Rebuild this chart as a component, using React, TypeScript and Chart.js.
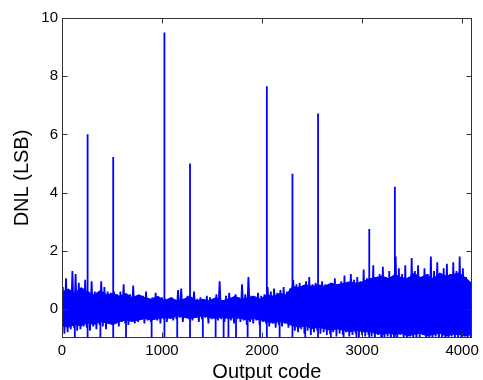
import React, { useEffect, useRef } from "react";
import { Chart, registerables } from "chart.js";

Chart.register(...registerables);

// Noise band: per 32-code bin, the upper and lower excursion
const binSize = 32;
const upperEnv = [
  0.75, 1.05, 0.6, 1.3, 1.2, 0.9, 0.55, 1.0, 0.6, 0.95, 0.6, 0.55, 0.95, 0.75, 0.6, 0.55,
  0.6, 0.5, 0.6, 0.85, 0.45, 0.5, 0.8, 0.45, 0.4, 0.45, 0.6, 0.35, 0.4, 0.55, 0.35, 0.4,
  0.35, 0.3, 0.4, 0.3, 0.65, 0.7, 0.3, 0.45, 0.3, 0.6, 0.35, 0.4, 0.3, 0.45, 0.4, 0.35,
  0.5, 0.95, 0.3, 0.45, 0.55, 0.35, 0.5, 0.4, 0.85, 0.5, 1.1, 0.45, 0.4, 0.55, 0.45, 0.5,
  0.75, 0.6, 0.7, 0.55, 0.65, 0.75, 0.6, 0.7,
  1.0, 0.85, 0.9, 0.8, 0.95, 1.1, 0.85, 0.9, 0.75, 0.95, 0.85, 0.8, 0.9, 1.05, 0.85, 0.95,
  1.15, 0.9, 1.2, 1.0, 1.1, 0.95, 1.35, 1.05,
  1.0, 1.5, 1.1, 1.2, 1.45, 1.1, 1.3, 1.0, 1.8, 1.4, 1.2, 1.5, 1.1, 1.75, 1.3, 1.5,
  1.1, 1.4, 1.2, 1.8, 1.3, 1.6, 1.2, 1.4, 1.55, 1.2, 1.6, 1.3, 1.8, 1.4, 1.1, 0.8,
];
const lowerEnv = [
  -0.85, -0.8, -0.7, -0.65, -0.75, -0.7, -0.6, -0.65, -0.75, -0.6, -0.7, -0.55, -0.6, -0.7, -0.5, -0.55,
  -0.5, -0.6, -0.45, -0.5, -0.55, -0.4, -0.5, -0.45, -0.35, -0.5, -0.4, -0.45, -0.35, -0.4, -0.5, -0.35,
  -0.45, -0.3, -0.4, -0.35, -0.3, -0.45, -0.3, -0.35, -0.4, -0.3, -0.45, -0.35, -0.3, -0.5, -0.35, -0.3,
  -0.4, -0.35, -0.45, -0.3, -0.4, -0.5, -0.35, -0.45, -0.4, -0.55, -0.45, -0.5, -0.4, -0.55, -0.45, -0.5,
  -0.6, -0.5, -0.65, -0.55, -0.6, -0.5, -0.65, -0.55,
  -0.75, -0.8, -0.7, -0.85, -0.75, -0.9, -0.8, -0.75, -0.85, -0.8, -0.9, -0.85, -0.8, -0.95, -0.85, -0.9,
  -0.8, -0.95, -0.9, -0.85, -1.0, -0.9, -0.95, -0.9,
  -0.95, -1.05, -0.9, -1.1, -1.0, -0.95, -1.1, -1.0, -1.05, -0.9, -1.1, -1.0, -0.95, -1.1, -1.05, -1.0,
  -0.9, -1.1, -1.0, -1.05, -0.95, -1.1, -1.0, -1.05, -1.1, -0.95, -1.05, -1.0, -1.1, -0.95, -1.05, -1.0,
];

// Dense (solid-looking) core of the noise band, read every 64 codes
const coreStep = 64;
const coreTop = [
  0.6, 0.7, 0.55, 0.75, 0.6, 0.5, 0.65, 0.5, 0.55, 0.45, 0.55, 0.4, 0.5, 0.4, 0.35, 0.45,
  0.3, 0.4, 0.3, 0.35, 0.45, 0.3, 0.35, 0.3, 0.4, 0.3, 0.35, 0.45, 0.35, 0.4, 0.45, 0.35,
  0.5, 0.45, 0.55, 0.5,
  0.8, 0.75, 0.85, 0.8, 0.85, 0.8, 0.9, 0.85, 0.9, 0.95, 0.9, 0.95,
  1.05, 1.1, 1.15, 1.05, 1.2, 1.1, 1.05, 1.25, 1.1, 1.2, 1.05, 1.25, 1.15, 1.2, 1.25, 1.1, 0.9,
];
const coreBottom = [
  -0.6, -0.65, -0.55, -0.6, -0.5, -0.55, -0.45, -0.5, -0.55, -0.45, -0.4, -0.45, -0.4, -0.35, -0.4, -0.35,
  -0.3, -0.35, -0.25, -0.3, -0.35, -0.3, -0.25, -0.3, -0.35, -0.3, -0.35, -0.3, -0.35, -0.4, -0.35, -0.4,
  -0.45, -0.5, -0.45, -0.5,
  -0.6, -0.65, -0.6, -0.7, -0.65, -0.7, -0.75, -0.7, -0.75, -0.8, -0.75, -0.8,
  -0.8, -0.85, -0.9, -0.85, -0.9, -0.85, -0.95, -0.9, -0.85, -0.95, -0.9, -0.85, -0.95, -0.9, -0.9, -0.95, -0.9,
];

// Large positive DNL spikes (output code, LSB)
const spikeCodes = [256, 512, 1024, 1280, 2048, 2304, 2560, 3072, 3328];
const spikeValues = [6.0, 5.22, 9.5, 5.0, 7.65, 4.65, 6.72, 2.75, 4.2];

// Negative dips reaching the bottom of the axes
const dipCodes = [128, 256, 384, 512, 640, 896, 1024, 1152, 1280, 1408, 1536, 1616, 1664, 1740, 1856, 1980, 2048, 2176, 2304, 2432, 2560, 2688, 2816, 2944, 3072, 3200, 3328];
const dipValues = [-1.3, -1.3, -1.3, -1.3, -1.3, -1.3, -1.3, -1.3, -1.3, -1.3, -1.3, -1.3, -1.3, -1.3, -1.3, -1.3, -1.3, -1.3, -1.3, -1.3, -1.3, -1.3, -1.3, -1.3, -1.3, -1.3, -1.3];

const xTicks = [0, 1000, 2000, 3000, 4000];
const yTicks = [0, 2, 4, 6, 8, 10];
const xMin = 0;
const xMax = 4096;
const yMin = -1;
const yMax = 10;

const BLUE = "#0000ff";
const FONT = "'Liberation Sans', Arial, Helvetica, sans-serif";

const framePlugin = {
  id: "matlabFrame",
  afterDraw(chart: any) {
    const { ctx, chartArea: a, scales } = chart;
    const L = Math.round(a.left) + 0.5;
    const R = Math.round(a.right) - 0.5;
    const T = Math.round(a.top) + 0.5;
    const B = Math.round(a.bottom) - 0.5;
    ctx.save();
    ctx.strokeStyle = "#333";
    ctx.lineWidth = 1;
    ctx.strokeRect(L, T, R - L, B - T);
    const tl = 5;
    ctx.beginPath();
    for (const v of xTicks) {
      const px = Math.round(scales.x.getPixelForValue(v)) + 0.5;
      ctx.moveTo(px, B);
      ctx.lineTo(px, B - tl);
      ctx.moveTo(px, T);
      ctx.lineTo(px, T + tl);
    }
    for (const v of yTicks) {
      const py = Math.round(scales.y.getPixelForValue(v)) + 0.5;
      ctx.moveTo(L, py);
      ctx.lineTo(L + tl, py);
      ctx.moveTo(R, py);
      ctx.lineTo(R - tl, py);
    }
    ctx.stroke();
    ctx.restore();
  },
};

export default function App() {
  const ref = useRef<HTMLCanvasElement | null>(null);

  useEffect(() => {
    document.body.style.margin = "0";
    const noise: { x: number; y: number }[] = [];
    upperEnv.forEach((u, i) => {
      noise.push({ x: i * binSize + 8, y: u });
      noise.push({ x: i * binSize + 24, y: lowerEnv[i] });
    });
    const coreHi = coreTop.map((v, i) => ({ x: i * coreStep, y: v }));
    const coreLo = coreBottom.map((v, i) => ({ x: i * coreStep, y: v }));
    const spikes: { x: number; y: number | null }[] = [];
    spikeCodes.forEach((c, i) => {
      spikes.push({ x: c, y: 0 });
      spikes.push({ x: c, y: spikeValues[i] });
      spikes.push({ x: c, y: null });
    });
    dipCodes.forEach((c, i) => {
      spikes.push({ x: c, y: 0 });
      spikes.push({ x: c, y: dipValues[i] });
      spikes.push({ x: c, y: null });
    });

    const chart = new Chart(ref.current as HTMLCanvasElement, {
      type: "line",
      data: {
        datasets: [
          {
            data: coreHi,
            borderWidth: 0,
            borderColor: BLUE,
            backgroundColor: BLUE,
            pointRadius: 0,
            fill: "+1",
            tension: 0,
          },
          {
            data: coreLo,
            borderWidth: 0,
            borderColor: BLUE,
            pointRadius: 0,
            fill: false,
            tension: 0,
          },
          {
            data: noise,
            borderColor: BLUE,
            backgroundColor: BLUE,
            borderWidth: 1.8,
            pointRadius: 0,
            fill: "origin",
            tension: 0,
          },
          {
            data: spikes as any,
            borderColor: BLUE,
            borderWidth: 1.8,
            pointRadius: 0,
            fill: false,
            spanGaps: false,
            tension: 0,
          },
        ],
      },
      options: {
        responsive: false,
        animation: false,
        events: [],
        layout: { padding: { left: 0, right: 10, top: 18, bottom: 0 } },
        plugins: { legend: { display: false }, tooltip: { enabled: false } },
        scales: {
          x: {
            type: "linear",
            min: xMin,
            max: xMax,
            grid: { display: false, drawTicks: false },
            border: { display: false },
            afterBuildTicks: (s: any) => {
              s.ticks = xTicks.map((v) => ({ value: v }));
            },
            afterFit: (s: any) => {
              s.height = 42;
            },
            ticks: {
              padding: 4,
              color: "#000",
              font: { family: FONT, size: 15 },
              maxRotation: 0,
              autoSkip: false,
              callback: (v: any) => String(v),
            },
            title: {
              display: true,
              text: "Output code",
              color: "#000",
              font: { family: FONT, size: 20, lineHeight: 0.8 },
              padding: 0,
            },
          },
          y: {
            type: "linear",
            min: yMin,
            max: yMax,
            grid: { display: false, drawTicks: false },
            border: { display: false },
            afterBuildTicks: (s: any) => {
              s.ticks = yTicks.map((v) => ({ value: v }));
            },
            afterFit: (s: any) => {
              s.width = 62;
            },
            ticks: {
              padding: 4,
              color: "#000",
              font: { family: FONT, size: 15 },
              callback: (v: any) => String(v),
            },
            title: {
              display: true,
              text: "DNL (LSB)",
              color: "#000",
              font: { family: FONT, size: 20, lineHeight: 1.2 },
              padding: { top: 10, bottom: 0 },
            },
          },
        },
      },
      plugins: [framePlugin],
    });
    return () => chart.destroy();
  }, []);

  return (
    <div style={{ position: "absolute", left: 0, top: 0, width: 483, height: 380 }}>
      <canvas ref={ref} width={483} height={380} />
    </div>
  );
}
